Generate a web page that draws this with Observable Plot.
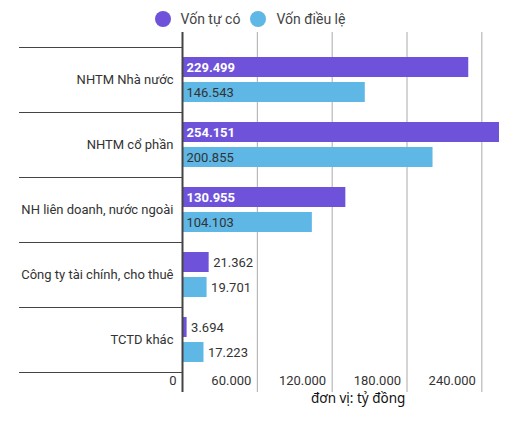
<!DOCTYPE html>
<html>
<head>
<meta charset="utf-8">
<script src="https://cdn.jsdelivr.net/npm/d3@7"></script>
<script src="https://cdn.jsdelivr.net/npm/@observablehq/plot@0.6"></script>
<style>
  body { margin: 0; background: #fff; font-family: Roboto, sans-serif; }
  #legend { height: 32px; display: flex; justify-content: center; align-items: center; font-size: 14px; color: #444; padding-left: 4px; box-sizing: border-box; padding-top: 5px; }
  #legend .sw { width: 16px; height: 16px; border-radius: 50%; margin-right: 10px; }
  #legend .it { display: flex; align-items: center; margin-right: 10px; }
  #note { margin-left: 311px; font-family: "Noto Sans", sans-serif; font-size: 13.5px; color: #111; margin-top: -3px; }
</style>
</head>
<body>
<div id="legend"></div>
<div id="grafico"></div>
<div id="note">đơn vị: tỷ đồng</div>
<script>
// số liệu (tỷ đồng)
const categories = ["NHTM Nhà nước", "NHTM cổ phần", "NH liên doanh, nước ngoài", "Công ty tài chính, cho thuê", "TCTD khác"]
const series = ["Vốn tự có", "Vốn điều lệ"]
const vonTuCo = [229499, 254151, 130955, 21362, 3694]
const vonDieuLe = [146543, 200855, 104103, 19701, 17223]
const xTicks = [0, 60000, 120000, 180000, 240000]
const colors = ["#6e52d9", "#5eb7e5"]

const fmt = d3.formatLocale({decimal: ',', thousands: '.', grouping: [3], currency: ['', '']}).format(',d')

const rows1 = categories.map((c, i) => ({cat: c, serie: series[0], value: vonTuCo[i]}))
const rows2 = categories.map((c, i) => ({cat: c, serie: series[1], value: vonDieuLe[i]}))
const inside = d => d.value > 50000

// leyenda
d3.select('#legend').selectAll('div').data(series).join('div')
  .attr('class', 'it')
  .html((d, i) => `<div class="sw" style="background:${colors[i]}"></div><span>${d}</span>`)

let chart = Plot.plot({
  width: 506,
  height: 360,
  marginLeft: 182,
  marginRight: 7,
  marginTop: 0,
  marginBottom: 0,
  style: {fontFamily: 'Roboto, sans-serif', fontSize: '13px', color: '#333'},
  x: {domain: [0, 254151], axis: null},
  y: {domain: categories, padding: 0, insetTop: 14, insetBottom: 19, axis: null},
  color: {domain: series, range: colors},
  marks: [
    Plot.gridX({ticks: xTicks.slice(1), stroke: '#aaa', strokeOpacity: 1}),
    Plot.barX(rows1, {y: 'cat', x: 'value', fill: 'serie', insetTop: 10, insetBottom: 35}),
    Plot.barX(rows2, {y: 'cat', x: 'value', fill: 'serie', insetTop: 35, insetBottom: 10}),
    Plot.ruleX([0], {stroke: '#444', strokeWidth: 2}),
    // separadores
    Plot.ruleY(categories, {y: d => d, x1: 0, x2: 0, dy: -32.5, insetLeft: -163, stroke: '#444'}),
    Plot.ruleY(categories.slice(-1), {y: d => d, x1: 0, x2: 0, dy: 32.5, insetLeft: -163, stroke: '#444'}),
    Plot.axisY({tickSize: 0, tickPadding: 9, fontSize: 13, fill: '#333', label: null}),
    // etiquetas
    Plot.text(rows1.filter(inside), {y: 'cat', x: 0, text: d => fmt(d.value), dy: -12.5, dx: 4, textAnchor: 'start',
      fill: '#fff', fontWeight: 'bold'}),
    Plot.text(rows1.filter(d => !inside(d)), {y: 'cat', x: 'value', text: d => fmt(d.value), dy: -12.5, dx: 4, textAnchor: 'start',
      fill: '#333'}),
    Plot.text(rows2, {y: 'cat', x: d => inside(d) ? 0 : d.value, text: d => fmt(d.value), dy: 12.5, dx: 4, textAnchor: 'start',
      fill: '#333'}),
    Plot.text(xTicks, {x: d => d, text: d => fmt(d), frameAnchor: 'bottom', dy: -8, dx: -6, textAnchor: 'end', fill: '#333'}),
  ],
})
d3.select('#grafico').append(() => chart)
</script>
</body>
</html>
